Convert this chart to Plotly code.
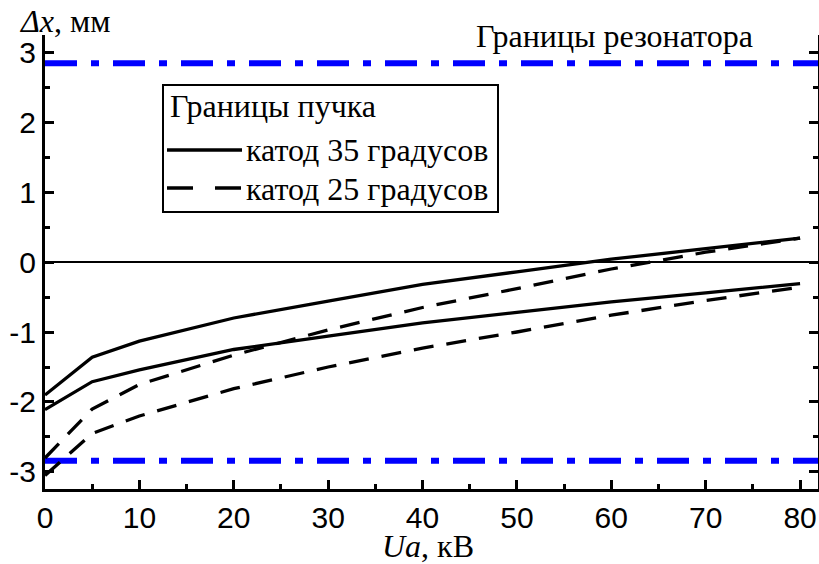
import plotly.graph_objects as go

# Data
ua = [0, 5, 10, 20, 30, 40, 50, 60, 70, 80]
c35_upper = [-1.90, -1.36, -1.13, -0.80, -0.56, -0.32, -0.14, 0.04, 0.19, 0.34]
c35_lower = [-2.11, -1.71, -1.54, -1.25, -1.06, -0.87, -0.72, -0.57, -0.44, -0.31]
c25_upper = [-2.80, -2.10, -1.75, -1.33, -0.97, -0.65, -0.38, -0.10, 0.14, 0.34]
c25_lower = [-3.05, -2.45, -2.20, -1.81, -1.50, -1.23, -1.00, -0.76, -0.55, -0.36]
resonator = [2.84, -2.84]
x_ticks = [0, 10, 20, 30, 40, 50, 60, 70, 80]
y_ticks = [-3, -2, -1, 0, 1, 2, 3]
y_ticktext = ["-3", "-2", "-1", "0", "1", "2", "3"]
x_range = [0, 81.9]
y_range = [-3.243, 3.243]

serif = "Liberation Serif, Times New Roman, serif"
sans = "Liberation Sans, Arial, sans-serif"

fig = go.Figure()

for yv in resonator:
    fig.add_trace(go.Scatter(x=x_range, y=[yv, yv], mode="lines",
                             line=dict(color="#0000ff", width=6, dash="32px,14px,8px,14px"),
                             showlegend=False, hoverinfo="skip"))

for ys, dash in [(c35_upper, "solid"), (c35_lower, "solid"),
                 (c25_upper, "20px,13px"), (c25_lower, "20px,13px")]:
    fig.add_trace(go.Scatter(x=ua, y=ys, mode="lines",
                             line=dict(color="black", width=3.3, dash=dash),
                             showlegend=False))

def py(p):
    return (489 - p) / 454
def px(p):
    return (p - 45) / 773

# manual legend
fig.add_shape(type="rect", xref="paper", yref="paper", x0=px(163), x1=px(498), y0=py(212), y1=py(85),
              line=dict(color="black", width=2), fillcolor="white", layer="above")
fig.add_shape(type="line", xref="paper", yref="paper", x0=px(167), x1=px(242), y0=py(150), y1=py(150),
              line=dict(color="black", width=3.5), layer="above")
fig.add_shape(type="line", xref="paper", yref="paper", x0=px(167), x1=px(242), y0=py(188), y1=py(188),
              line=dict(color="black", width=3.5, dash="26px,22px"), layer="above")
ann_font = dict(family=serif, size=32, color="black")
fig.add_annotation(xref="paper", yref="paper", x=px(168), y=py(106), text="Границы пучка",
                   showarrow=False, xanchor="left", yanchor="middle", font=ann_font)
fig.add_annotation(xref="paper", yref="paper", x=px(244), y=py(150), text="катод 35 градусов",
                   showarrow=False, xanchor="left", yanchor="middle", font=ann_font)
fig.add_annotation(xref="paper", yref="paper", x=px(244), y=py(189), text="катод 25 градусов",
                   showarrow=False, xanchor="left", yanchor="middle", font=ann_font)
fig.add_annotation(xref="paper", yref="paper", x=px(614), y=py(36), text="Границы резонатора",
                   showarrow=False, xanchor="center", yanchor="middle", font=ann_font)
fig.add_annotation(xref="paper", yref="paper", x=px(17), y=py(21), text="<i>Δx</i>, мм",
                   showarrow=False, xanchor="left", yanchor="middle", font=ann_font)
fig.add_annotation(xref="paper", yref="paper", x=px(428), y=py(546), text="<i>Ua</i>, кВ",
                   showarrow=False, xanchor="center", yanchor="middle", font=ann_font)

tick_font = dict(family=sans, size=30, color="black")
fig.update_layout(
    width=819, height=564,
    margin=dict(l=45, r=1, t=35, b=75),
    paper_bgcolor="white", plot_bgcolor="white",
    xaxis=dict(range=x_range, tickvals=x_ticks, automargin=False,
               ticks="inside", ticklen=9, tickwidth=2.5, tickcolor="black",
               showline=True, linecolor="black", linewidth=3, mirror=False,
               showgrid=False, zeroline=False, tickfont=tick_font,
               minor=dict(ticks="inside", ticklen=5, tickwidth=2.5, tickcolor="black", dtick=5, tick0=0, showgrid=False)),
    yaxis=dict(range=y_range, tickvals=y_ticks, ticktext=y_ticktext, automargin=False,
               ticks="inside", ticklen=9, tickwidth=2.5, tickcolor="black",
               showline=True, linecolor="black", linewidth=3, mirror="ticks",
               showgrid=False, zeroline=True, zerolinecolor="black", zerolinewidth=2,
               tickfont=tick_font,
               minor=dict(ticks="inside", ticklen=5, tickwidth=2.5, tickcolor="black", dtick=0.5, tick0=0, showgrid=False)),
)

fig.write_html("out.html", config={"displayModeBar": False},
               post_script="document.body.style.margin='0';document.body.style.overflow='hidden';")
